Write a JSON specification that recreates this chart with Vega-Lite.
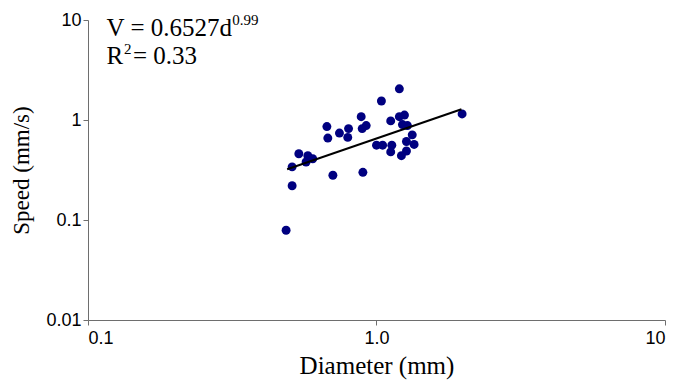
{
  "$schema": "https://vega.github.io/schema/vega-lite/v6.json",
  "width": 577,
  "height": 300,
  "autosize": {"type": "none"},
  "padding": {"left": 88, "top": 20, "right": 19, "bottom": 63},
  "background": "white",
  "config": {"view": {"stroke": null}},
  "datasets": {
    "obs": [
      {"d": 1.20, "v": 2.05},
      {"d": 1.04, "v": 1.55},
      {"d": 0.885, "v": 1.08},
      {"d": 1.20, "v": 1.08},
      {"d": 1.25, "v": 1.12},
      {"d": 1.98, "v": 1.15},
      {"d": 1.12, "v": 0.98},
      {"d": 0.673, "v": 0.86},
      {"d": 0.80, "v": 0.82},
      {"d": 0.921, "v": 0.88},
      {"d": 0.892, "v": 0.82},
      {"d": 0.744, "v": 0.74},
      {"d": 0.795, "v": 0.67},
      {"d": 0.678, "v": 0.66},
      {"d": 1.23, "v": 0.90},
      {"d": 1.28, "v": 0.88},
      {"d": 1.33, "v": 0.71},
      {"d": 1.27, "v": 0.61},
      {"d": 1.35, "v": 0.57},
      {"d": 1.00, "v": 0.56},
      {"d": 1.05, "v": 0.56},
      {"d": 1.13, "v": 0.56},
      {"d": 1.12, "v": 0.48},
      {"d": 1.22, "v": 0.44},
      {"d": 1.27, "v": 0.49},
      {"d": 0.538, "v": 0.46},
      {"d": 0.578, "v": 0.44},
      {"d": 0.601, "v": 0.41},
      {"d": 0.57, "v": 0.38},
      {"d": 0.51, "v": 0.34},
      {"d": 0.706, "v": 0.28},
      {"d": 0.897, "v": 0.30},
      {"d": 0.51, "v": 0.22},
      {"d": 0.486, "v": 0.079}
    ],
    "trend": [
      {"d": 0.49, "v": 0.322},
      {"d": 1.97, "v": 1.28}
    ],
    "notes": [
      {"d": 0.116, "v": 6.9, "t": "V = 0.6527d", "s": "main"},
      {"d": 0.316, "v": 8.9, "t": "0.99", "s": "sup"},
      {"d": 0.116, "v": 3.63, "t": "R", "s": "main"},
      {"d": 0.1333, "v": 4.57, "t": "2", "s": "sup"},
      {"d": 0.1432, "v": 3.63, "t": "= 0.33", "s": "main"}
    ]
  },
  "layer": [
    {
      "data": {"name": "obs"},
      "mark": {"type": "circle", "color": "#000080", "opacity": 1, "size": 80},
      "encoding": {
        "x": {
          "field": "d", "type": "quantitative",
          "scale": {"type": "log", "domain": [0.1, 10], "nice": false},
          "axis": {
            "title": "Diameter (mm)",
            "values": [0.1, 1, 10],
            "labelExpr": "datum.value == 1 ? '1.0' : (datum.value < 0.5 ? '0.1' : '10')",
            "grid": false,
            "domainColor": "#6e6e6e",
            "tickColor": "#6e6e6e",
            "tickSize": 5,
            "labelFont": "Liberation Sans",
            "labelFontSize": 18,
            "labelColor": "black",
            "labelPadding": 4,
            "titleFont": "Liberation Serif",
            "titleFontSize": 25,
            "titleFontWeight": "normal",
            "titleColor": "black",
            "titlePadding": 6
          }
        },
        "y": {
          "field": "v", "type": "quantitative",
          "scale": {"type": "log", "domain": [0.01, 10], "nice": false},
          "axis": {
            "title": "Speed (mm/s)",
            "values": [0.01, 0.1, 1, 10],
            "labelExpr": "datum.value < 0.05 ? '0.01' : (datum.value < 0.5 ? '0.1' : (datum.value < 5 ? '1' : '10'))",
            "grid": false,
            "domainColor": "#6e6e6e",
            "tickColor": "#6e6e6e",
            "tickSize": 5,
            "labelFont": "Liberation Sans",
            "labelFontSize": 18,
            "labelColor": "black",
            "labelPadding": 2,
            "titleFont": "Liberation Serif",
            "titleFontSize": 23,
            "titleFontWeight": "normal",
            "titleColor": "black",
            "titlePadding": 12
          }
        }
      }
    },
    {
      "data": {"name": "trend"},
      "mark": {"type": "line", "color": "black", "strokeWidth": 2},
      "encoding": {
        "x": {"field": "d", "type": "quantitative"},
        "y": {"field": "v", "type": "quantitative"}
      }
    },
    {
      "data": {"name": "notes"},
      "mark": {"type": "text", "align": "left", "baseline": "alphabetic", "font": "Liberation Serif", "color": "black", "clip": false},
      "encoding": {
        "x": {"field": "d", "type": "quantitative"},
        "y": {"field": "v", "type": "quantitative"},
        "text": {"field": "t"},
        "size": {
          "field": "s", "type": "nominal",
          "scale": {"domain": ["main", "sup"], "range": [25, 15]},
          "legend": null
        }
      }
    }
  ]
}
